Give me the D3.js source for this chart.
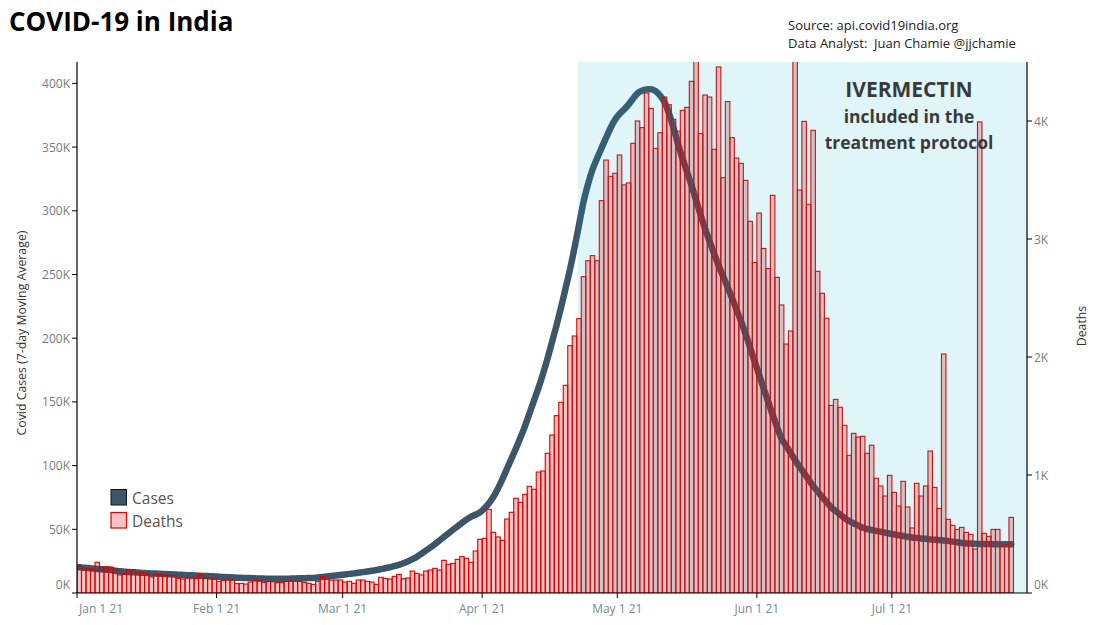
<!DOCTYPE html>
<html><head><meta charset="utf-8">
<script src="https://cdn.jsdelivr.net/npm/d3@7"></script>
<style>
body{margin:0;background:#fff;}
svg{display:block;font-family:"Open Sans",sans-serif;}
</style></head>
<body><svg id="chart" width="1097" height="625"></svg>
<script>
// ---------- DATA ----------
const startDate = "2021-01-01";
const xDomain = ["2021-01-01", "2021-07-31"];
const bandStart = "2021-04-22T06:00:00Z";
const tickDates = ["2021-01-01","2021-02-01","2021-03-01","2021-04-01","2021-05-01","2021-06-01","2021-07-01"];
const casesTicks = [0,50,100,150,200,250,300,350,400];   // thousands
const deathTicks = [0,1000,2000,3000,4000];
const casesMax = 416.8;
const deathsMax = 4500;

// Daily deaths (from Jan 1 2021)
const deaths = [
 235,212,206,200,260,218,223,220,203,153,161,198,198,172,172,167,136,158,155,150,150,150,124,119,127,127,121,158,130,121,116,
 99,107,110,110,79,82,76,93,107,107,90,96,96,88,88,99,99,99,99,90,82,73,99,138,119,110,110,110,
 93,99,82,110,110,99,93,73,133,124,119,141,158,121,127,186,167,153,186,195,209,195,277,243,251,285,308,294,260,356,455,
 463,709,514,475,446,627,684,802,768,836,904,879,1025,1034,1184,1339,1503,1616,1760,2096,2178,2325,2681,2816,2859,2816,3325,3669,3531,3557,
 3712,3458,3475,3811,4000,3944,4237,4107,3768,3901,4203,4138,4014,3913,4090,4116,4336,4529,3893,4220,4203,3760,4458,3520,4165,3859,3686,3641,3497,3150,2800,
 3220,2920,2750,3370,2675,2441,2110,2220,6148,3415,3997,3294,3921,2726,2540,2328,1590,1641,1574,1421,1167,1353,1322,1328,1184,1252,972,907,822,997,
 853,737,946,729,551,929,822,907,1203,895,717,2025,624,573,539,556,514,497,373,3992,506,480,539,539,401,413,641
];

// Cases, 7-day moving average, thousands
const cases = [
 20.2,19.9,19.6,19.2,18.9,18.6,18.3,18.0,17.5,17.0,16.7,16.4,16.2,16.0,15.8,15.6,15.4,15.3,15.1,14.9,14.7,14.5,14.4,14.2,14.0,13.9,13.7,13.5,13.3,13.2,13.0,
 12.8,12.6,12.4,12.2,12.0,11.9,11.8,11.7,11.5,11.4,11.3,11.2,11.2,11.1,11.1,11.2,11.3,11.4,11.5,11.6,11.7,11.8,12.2,12.6,13.0,13.4,13.8,14.2,
 14.6,15.0,15.4,15.9,16.4,16.9,17.4,18.0,18.7,19.4,20.2,21.1,22.1,23.3,24.8,26.5,28.5,30.8,33.2,35.8,38.4,41.2,44.0,46.8,49.6,52.3,55.0,57.6,59.8,61.4,63.2,
 66.5,70.5,75.5,82,89.5,97.5,105.5,113.5,122,131,141,151,161,172,184,197,210,224,239,254,271,289,307,321,332.4,341,349.2,357.2,365,371.4,
 376,379.5,383.4,388,392.3,394.3,395.3,395.5,394,390.5,385.2,376.4,364.9,352.3,340.8,330.5,319.8,308.3,296.8,285.9,276.1,266.4,257.1,248.6,240.2,231.4,222.3,213.2,203.3,192.6,181.9,
 171.2,160.7,150.2,140,130,121.1,115.5,109.9,104.3,99,94,89,84,79.7,75.5,71.3,67.2,64.4,61.6,58.8,56.5,54.7,53,51.2,50.2,49.5,48.8,48.1,47.4,46.7,
 46,45.3,44.7,44.2,43.6,43.2,42.8,42.5,42.1,41.8,41.5,41.2,40.9,40.3,39.8,39.3,38.9,38.8,38.6,38.5,38.4,38.4,38.3,38.2,38.2,38.2,38.3
];

// ---------- CHART ----------
const svg = d3.select("#chart");
const L = 77, R = 1027, T = 62, B = 593;
const DAY = 86400000;
const t0 = new Date(startDate + "T00:00:00Z");
const dates = deaths.map((_, i) => new Date(t0.getTime() + i * DAY));

const x = d3.scaleUtc().domain(xDomain.map(s => new Date(s + "T00:00:00Z"))).range([L, R]);
const yC = d3.scaleLinear().domain([0, casesMax]).range([B, T]);
const yD = d3.scaleLinear().domain([0, deathsMax]).range([B, T]);

svg.append("defs").append("clipPath").attr("id", "clip")
  .append("rect").attr("x", L).attr("y", T).attr("width", R - L).attr("height", B - T);

const plot = svg.append("g").attr("clip-path", "url(#clip)");

// cases line (under bars)
const line = d3.line()
  .x((d, i) => x(new Date(dates[i].getTime() + DAY / 2)))
  .y(d => yC(d))
  .curve(d3.curveMonotoneX);
plot.append("path").datum(cases)
  .attr("d", line)
  .attr("fill", "none")
  .attr("stroke", "#3d5568")
  .attr("stroke-width", 6.5)
  .attr("stroke-linecap", "round")
  .attr("stroke-linejoin", "round");

// deaths bars
plot.selectAll("rect.bar").data(deaths).join("rect")
  .attr("class", "bar")
  .attr("x", (d, i) => x(dates[i]))
  .attr("width", (d, i) => x(new Date(dates[i].getTime() + DAY)) - x(dates[i]))
  .attr("y", d => yD(d))
  .attr("height", d => B - yD(d))
  .attr("fill", "rgba(213,5,5,0.24)")
  .attr("stroke", "#dd0000")
  .attr("stroke-width", 1.1);

// shaded band
const bx = x(new Date(bandStart));
svg.append("rect").attr("x", bx).attr("y", T).attr("width", R - bx).attr("height", B - T)
  .attr("fill", "rgb(0,170,200)").attr("opacity", 0.12);

// axes lines
const axisG = svg.append("g").attr("stroke", "#000").attr("stroke-width", 1.2);
axisG.append("line").attr("x1", L).attr("x2", L).attr("y1", T).attr("y2", B);
axisG.append("line").attr("x1", R).attr("x2", R).attr("y1", T).attr("y2", B);
axisG.append("line").attr("x1", L).attr("x2", R).attr("y1", B).attr("y2", B);

const labelColor = "#7b7b7b";
// left ticks
casesTicks.forEach(v => {
  const yy = yC(v);
  svg.append("line").attr("x1", L - 5).attr("x2", L).attr("y1", yy).attr("y2", yy).attr("stroke", "#000");
  svg.append("text").attr("x", L - 7).attr("y", v === 0 ? yy - 9 : yy)
    .attr("text-anchor", "end").attr("dominant-baseline", "central")
    .attr("font-size", 12).attr("fill", labelColor).text(v + "K");
});
// right ticks
deathTicks.forEach(v => {
  const yy = yD(v);
  svg.append("line").attr("x1", R).attr("x2", R + 5).attr("y1", yy).attr("y2", yy).attr("stroke", "#000");
  svg.append("text").attr("x", R + 7).attr("y", v === 0 ? yy - 9 : yy)
    .attr("text-anchor", "start").attr("dominant-baseline", "central")
    .attr("font-size", 12).attr("fill", labelColor).text((v / 1000) + "K");
});
// bottom ticks
const fmt = d3.utcFormat("%b %-d %y");
tickDates.forEach((s, i) => {
  const d = new Date(s + "T00:00:00Z");
  const xx = x(d);
  svg.append("line").attr("x1", xx).attr("x2", xx).attr("y1", B).attr("y2", B + 5).attr("stroke", "#000");
  svg.append("text").attr("x", i === 0 ? xx + 2 : xx).attr("y", B + 15)
    .attr("text-anchor", i === 0 ? "start" : "middle").attr("dominant-baseline", "central")
    .attr("font-size", 12).attr("fill", "#7d8797").text(fmt(d));
});

// axis titles
svg.append("text").attr("transform", "translate(26,333) rotate(-90)")
  .attr("text-anchor", "middle").attr("font-size", 12.3).attr("fill", "#333")
  .text("Covid Cases (7-day Moving Average)");
svg.append("text").attr("transform", "translate(1086,326) rotate(-90)")
  .attr("text-anchor", "middle").attr("font-size", 12.3).attr("fill", "#333")
  .text("Deaths");

// title & source
svg.append("text").attr("x", 9).attr("y", 31).attr("font-size", 26).attr("font-weight", 700)
  .attr("fill", "#000").text("COVID-19 in India");
svg.append("text").attr("x", 788).attr("y", 30).attr("font-size", 13).attr("fill", "#222")
  .text("Source: api.covid19india.org");
svg.append("text").attr("x", 788).attr("y", 48).attr("font-size", 13).attr("fill", "#222")
  .attr("xml:space", "preserve").style("white-space", "pre")
  .text("Data Analyst:  Juan Chamie @jjchamie");

// annotation
const ann = svg.append("g").attr("fill", "#3a3a3a").attr("font-weight", 700).attr("text-anchor", "middle");
ann.append("text").attr("x", 909).attr("y", 97).attr("font-size", 21).text("IVERMECTIN");
ann.append("text").attr("x", 909).attr("y", 123).attr("font-size", 17.5).text("included in the");
ann.append("text").attr("x", 909).attr("y", 149).attr("font-size", 17.5).text("treatment protocol");

// legend
const lg = svg.append("g");
lg.append("rect").attr("x", 111).attr("y", 489.5).attr("width", 15.5).attr("height", 15.5)
  .attr("fill", "#3d5568").attr("stroke", "#111").attr("stroke-width", 1);
lg.append("text").attr("x", 132).attr("y", 504).attr("font-size", 15.5).attr("fill", "#555").text("Cases");
lg.append("rect").attr("x", 111).attr("y", 512.5).attr("width", 15.5).attr("height", 15.5)
  .attr("fill", "rgba(213,5,5,0.24)").attr("stroke", "#dd0000").attr("stroke-width", 1.2);
lg.append("text").attr("x", 132).attr("y", 527).attr("font-size", 15.5).attr("fill", "#555").text("Deaths");
</script>
</body></html>
